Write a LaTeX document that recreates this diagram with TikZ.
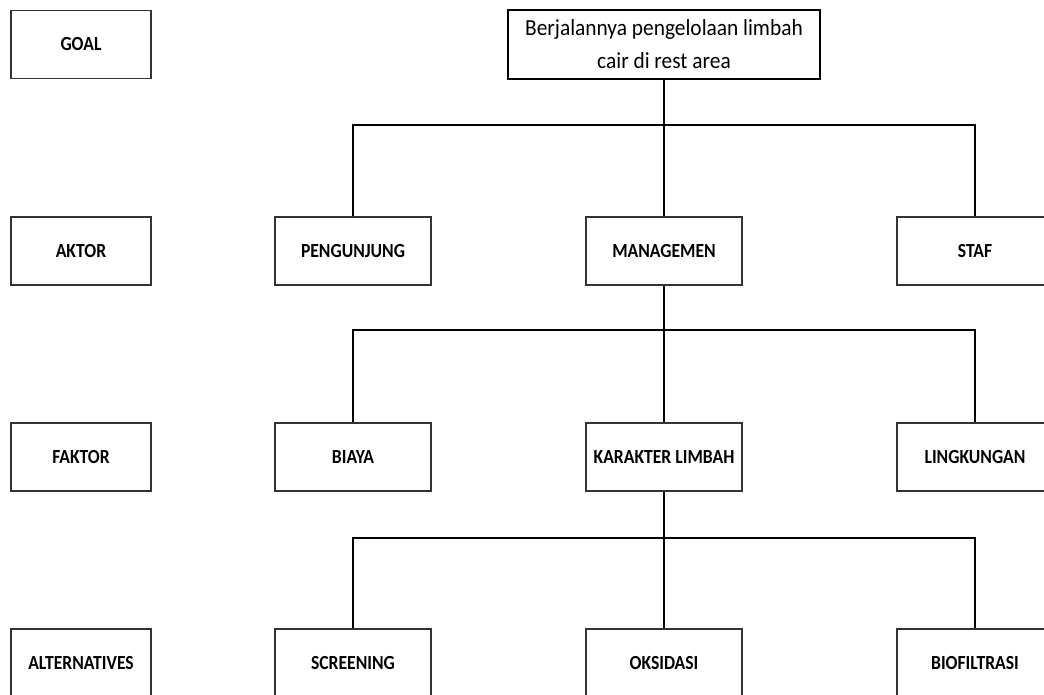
\documentclass[tikz,border=0pt]{standalone}
\usepackage{fontspec}
\setmainfont{Carlito}
\newfontfamily\labelfont[FakeStretch = 0.88]{Carlito}
\newfontfamily\goalfont[FakeStretch = 0.93]{Carlito}
\usetikzlibrary{positioning}

\tikzset{
  level/.style = {draw = black!80, line width = 1.2pt, inner sep = 0pt,
    minimum width = 140pt, minimum height = 68pt,
    font = \labelfont\bfseries\fontsize{20}{24}\selectfont},
  item/.style = {level, minimum width = 156pt},
  link/.style = {line width = 1.6pt}
}

\begin{document}
\begin{tikzpicture}[x = 1pt, y = -1pt]
\useasboundingbox (0, 0) rectangle (1044, 695);

% levels on the left
\node[level] (goal) at (81, 44.5) {GOAL};
\node[level] (aktor) at (81, 251) {AKTOR};
\node[level, line width = 1.5pt] (faktor) at (81, 457) {FAKTOR};
\node[level] (alternatives) at (81, 663) {ALTERNATIVES};

% goal
\node[draw, line width = 1.5pt, inner sep = 0pt, minimum width = 312pt, minimum height = 69pt,
  align = center, font = \goalfont\fontsize{23}{33}\selectfont] (tujuan) at (664, 44.5)
  {Berjalannya pengelolaan limbah\\cair di rest area};

% aktor
\node[item] (pengunjung) at (353, 251) {PENGUNJUNG};
\node[item] (managemen) at (664, 251) {MANAGEMEN};
\node[item] (staf) at (975, 251) {STAF};

% faktor
\node[item, line width = 1.5pt] (biaya) at (353, 457) {BIAYA};
\node[item, line width = 1.5pt] (karakter) at (664, 457) {KARAKTER LIMBAH};
\node[item, line width = 1.5pt] (lingkungan) at (975, 457) {LINGKUNGAN};

% alternatives
\node[item] (screening) at (353, 663) {SCREENING};
\node[item] (oksidasi) at (664, 663) {OKSIDASI};
\node[item] (biofiltrasi) at (975, 663) {BIOFILTRASI};

\coordinate (bar1) at (664, 125);
\coordinate (bar2) at (664, 330);
\coordinate (bar3) at (664, 538);

\draw[link] (tujuan.south) -- (bar1) -- (managemen.north);
\draw[link] (pengunjung.north) |- (bar1) -| (staf.north);

\draw[link] (managemen.south) -- (bar2) -- (karakter.north);
\draw[link] (biaya.north) |- (bar2) -| (lingkungan.north);

\draw[link] (karakter.south) -- (bar3) -- (oksidasi.north);
\draw[link] (screening.north) |- (bar3) -| (biofiltrasi.north);

\end{tikzpicture}
\end{document}
